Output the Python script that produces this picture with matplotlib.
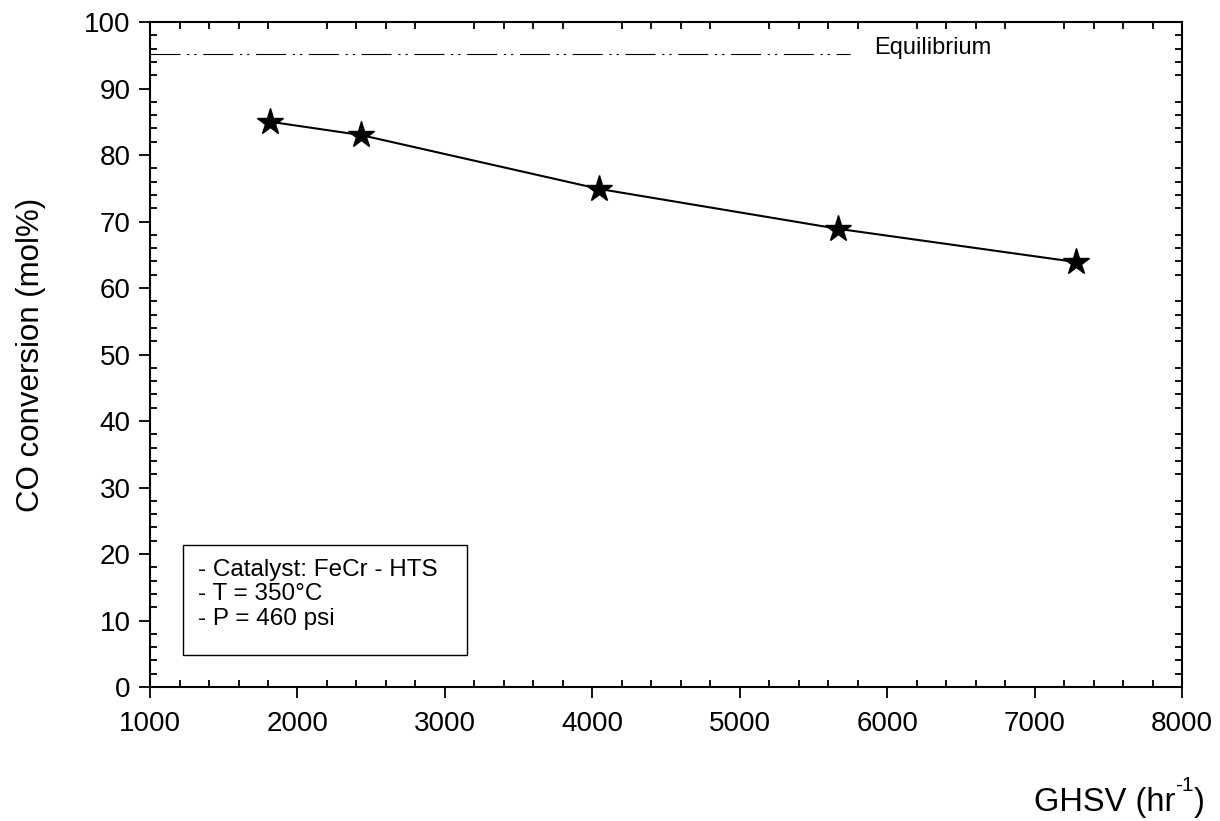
import matplotlib.pyplot as plt
import matplotlib as mpl
from matplotlib.ticker import MultipleLocator
from matplotlib.patches import Rectangle

mpl.rcParams['font.family'] = ['Liberation Sans', 'DejaVu Sans']

ghsv = [1814, 2431, 4046, 5668, 7282]
conversion = [85.0, 83.0, 74.9, 68.9, 63.9]
equilibrium = 95.2
eq_x = [1000, 5750]
notes = ['- Catalyst: FeCr - HTS', '- T = 350°C', '- P = 460 psi']

W, H = 1220, 821
fig = plt.figure(figsize=(W / 100, H / 100), dpi=100)
ax = fig.add_axes([0.123, 0.1632, 0.8459, 0.81])

ax.plot(ghsv, conversion, color='black', lw=1.5, marker='*', markersize=20, zorder=5)
ax.plot(eq_x, [equilibrium, equilibrium], color='black', lw=0.8,
        dashes=(27, 6, 2, 4.5, 2, 6))
ax.text(5910, equilibrium + 0.9, 'Equilibrium', fontsize=17, va='center')

ax.set_xlim(1000, 8000)
ax.set_ylim(0, 100)
ax.xaxis.set_major_locator(MultipleLocator(1000))
ax.xaxis.set_minor_locator(MultipleLocator(200))
ax.yaxis.set_major_locator(MultipleLocator(10))
ax.yaxis.set_minor_locator(MultipleLocator(2))
ax.tick_params(which='major', direction='out', length=8, width=1.3, labelsize=20,
               top=False, right=False, pad=6)
ax.tick_params(axis='x', which='major', pad=9)
ax.tick_params(which='minor', direction='in', length=5, width=1.3,
               top=True, right=True)
for s in ax.spines.values():
    s.set_linewidth(1.5)

ax.set_ylabel('CO conversion (mol%)', fontsize=22.5)
ax.yaxis.set_label_coords(-0.101, 0.5)

# x label placed at lower right, with a plain-hyphen superscript
r = fig.canvas.get_renderer()
base = 1 - 811 / H
t3 = fig.text(1205 / W, base, ')', fontsize=23.5, ha='right', va='baseline')
x0 = t3.get_window_extent(r).x0
t2 = fig.text(x0 / W, base + 0.024, '-1', fontsize=15, ha='right', va='baseline')
x0 = t2.get_window_extent(r).x0
fig.text(x0 / W, base, 'GHSV (hr', fontsize=23.5, ha='right', va='baseline')

# box with conditions
ax.add_patch(Rectangle((0.032, 0.048), 0.275, 0.165, transform=ax.transAxes,
                       fill=False, lw=1.0, edgecolor='black', zorder=4))
for i, t in enumerate(notes):
    ax.text(0.0465, 0.176 - i * 0.0368, t, transform=ax.transAxes, fontsize=17.5,
            va='center')

fig.savefig('out.png', dpi=100)
